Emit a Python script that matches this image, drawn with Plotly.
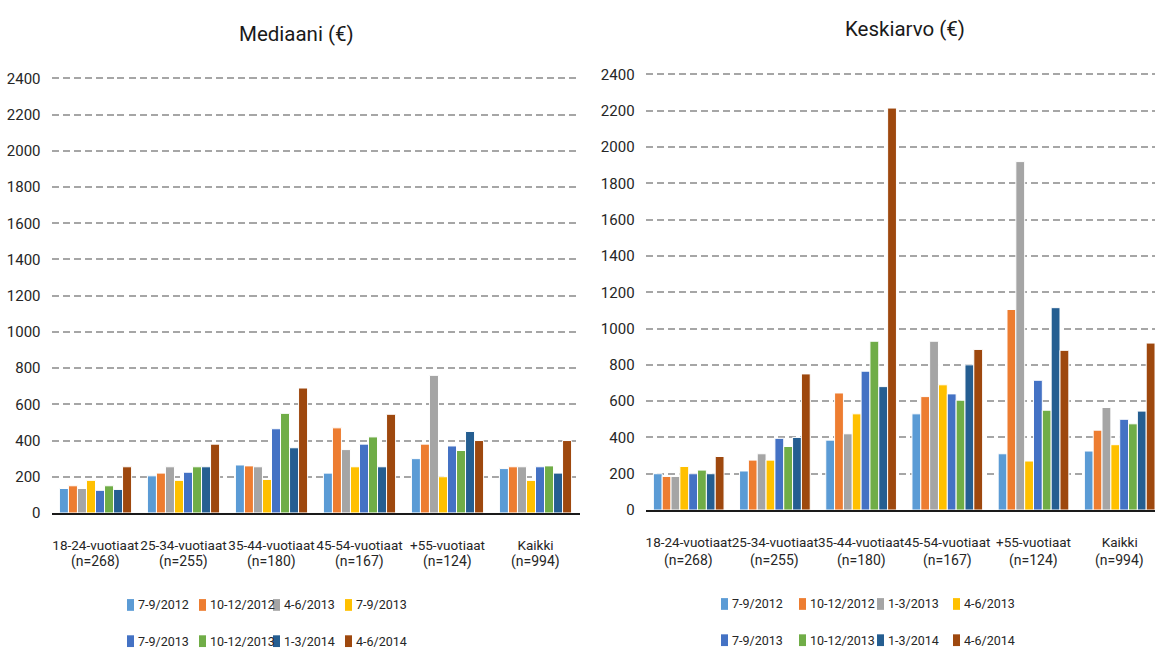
import plotly.graph_objects as go

# Age groups and their respondent counts
categories = ["18-24-vuotiaat", "25-34-vuotiaat", "35-44-vuotiaat",
              "45-54-vuotiaat", "+55-vuotiaat", "Kaikki"]
counts = ["(n=268)", "(n=255)", "(n=180)", "(n=167)", "(n=124)", "(n=994)"]

# Survey rounds (legend labels for each panel)
median_periods = ["7-9/2012", "10-12/2012", "4-6/2013", "7-9/2013",
                  "7-9/2013", "10-12/2013", "1-3/2014", "4-6/2014"]
mean_periods = ["7-9/2012", "10-12/2012", "1-3/2013", "4-6/2013",
                "7-9/2013", "10-12/2013", "1-3/2014", "4-6/2014"]

# Median (€) per round, one list per round across the age groups
median_7_9_2012 = [135, 205, 265, 220, 300, 245]
median_10_12_2012 = [150, 220, 260, 470, 380, 255]
median_4_6_2013 = [135, 255, 255, 350, 760, 255]
median_7_9_2013a = [180, 180, 185, 255, 200, 180]
median_7_9_2013b = [125, 225, 465, 380, 370, 255]
median_10_12_2013 = [150, 255, 550, 420, 345, 260]
median_1_3_2014 = [130, 255, 360, 255, 450, 220]
median_4_6_2014 = [255, 380, 690, 545, 400, 400]

# Mean (€) per round
mean_7_9_2012 = [200, 215, 385, 530, 310, 325]
mean_10_12_2012 = [185, 275, 645, 625, 1105, 440]
mean_1_3_2013 = [185, 310, 420, 930, 1920, 565]
mean_4_6_2013 = [240, 275, 530, 690, 270, 360]
mean_7_9_2013 = [200, 395, 765, 640, 715, 500]
mean_10_12_2013 = [220, 350, 930, 605, 550, 475]
mean_1_3_2014 = [200, 400, 680, 800, 1115, 545]
mean_4_6_2014 = [295, 750, 2215, 885, 880, 920]

median_series = [median_7_9_2012, median_10_12_2012, median_4_6_2013, median_7_9_2013a,
                 median_7_9_2013b, median_10_12_2013, median_1_3_2014, median_4_6_2014]
mean_series = [mean_7_9_2012, mean_10_12_2012, mean_1_3_2013, mean_4_6_2013,
               mean_7_9_2013, mean_10_12_2013, mean_1_3_2014, mean_4_6_2014]

colors = ["#5B9BD5", "#ED7D31", "#A5A5A5", "#FFC000",
          "#4472C4", "#70AD47", "#255E91", "#9E480E"]

FONT = "Roboto, sans-serif"
TXT = "#262626"
W, H = 1155, 658

x_pos = list(range(len(categories)))

fig = go.Figure()

for i, (name, vals) in enumerate(zip(median_periods, median_series)):
    fig.add_trace(go.Bar(
        x=x_pos, y=vals, name=name, xaxis="x", yaxis="y", showlegend=False,
        marker=dict(color=colors[i], line=dict(color="white", width=1)),
    ))

for i, (name, vals) in enumerate(zip(mean_periods, mean_series)):
    fig.add_trace(go.Bar(
        x=x_pos, y=vals, name=name, xaxis="x2", yaxis="y2", showlegend=False,
        marker=dict(color=colors[i], line=dict(color="white", width=1)),
    ))

grid = dict(showgrid=True, gridcolor="#a6a6a6", gridwidth=1.7, griddash="7px,4px",
            tickvals=list(range(0, 2401, 200)), zeroline=False,
            tickfont=dict(family=FONT, size=15, color=TXT),
            ticklabelstandoff=10, fixedrange=True)

xcommon = dict(tickvals=x_pos, ticktext=categories, showgrid=False, zeroline=False,
               showline=True, linecolor="#1a1a1a", linewidth=2, tickangle=0,
               tickfont=dict(family=FONT, size=13.5, color=TXT),
               ticklabelstandoff=19, fixedrange=True)

# pixel geometry of the two plot areas
L_left, L_right = 51.5, 579.5
R_left, R_step = 645.6, 86.2
L_y0, L_ytop = 519, 75
R_y0, R_ytop = 516, 71
ymax = 2420


def ydom(y0, ytop):
    top = y0 - ymax * (y0 - ytop) / 2400
    return [(H - y0) / H, (H - top) / H]


def py(px):
    """Paper y fraction for a pixel row measured from the top."""
    return 1 - px / H


annotations = [
    dict(text="Mediaani (€)", x=297 / W, y=py(30), xref="paper", yref="paper",
         showarrow=False, xanchor="center", yanchor="middle",
         font=dict(family=FONT, size=20.5, color="#1a1a1a")),
    dict(text="Keskiarvo (€)", x=905 / W, y=py(25), xref="paper", yref="paper",
         showarrow=False, xanchor="center", yanchor="middle",
         font=dict(family=FONT, size=20.5, color="#1a1a1a")),
]

# respondent counts below each category label
for xref, row in (("x", 569), ("x2", 568)):
    for xp, n in zip(x_pos, counts):
        annotations.append(dict(text=n, x=xp, y=py(row), xref=xref, yref="paper",
                                showarrow=False, xanchor="center", yanchor="middle",
                                font=dict(family=FONT, size=14, color=TXT)))

# legends: two rows of four entries under each panel
shapes = []
legend_layout = [
    (median_periods, [127, 199, 273, 345], [613, 650]),
    (mean_periods, [721, 799, 877, 953], [612, 649]),
]
for periods, cols, rows in legend_layout:
    for k, (name, col) in enumerate(zip(periods, colors)):
        sx = cols[k % 4]
        sy = rows[k // 4]
        shapes.append(dict(type="rect", xref="paper", yref="paper",
                           x0=sx / W, x1=(sx + 7) / W, y0=py(sy + 6), y1=py(sy - 6),
                           fillcolor=col, line=dict(width=0)))
        annotations.append(dict(text=name, x=(sx + 9) / W, y=py(sy), xref="paper",
                                yref="paper", showarrow=False, xanchor="left",
                                yanchor="middle",
                                font=dict(family=FONT, size=12.5, color=TXT)))

fig.update_layout(
    width=W, height=H,
    margin=dict(l=0, r=0, t=0, b=0),
    paper_bgcolor="white", plot_bgcolor="white",
    barmode="group", bargap=0.18, bargroupgap=0,
    font=dict(family=FONT, color=TXT),
    showlegend=False,
    xaxis=dict(domain=[L_left / W, L_right / W], range=[-0.5, 5.5],
               anchor="y", **xcommon),
    yaxis=dict(domain=ydom(L_y0, L_ytop), range=[0, ymax], anchor="x", **grid),
    xaxis2=dict(domain=[R_left / W, 1.0],
                range=[-0.5, -0.5 + (W - R_left) / R_step],
                anchor="y2", **xcommon),
    yaxis2=dict(domain=ydom(R_y0, R_ytop), range=[0, ymax], anchor="x2", **grid),
    annotations=annotations,
    shapes=shapes,
)

fig.write_html("out.html")
